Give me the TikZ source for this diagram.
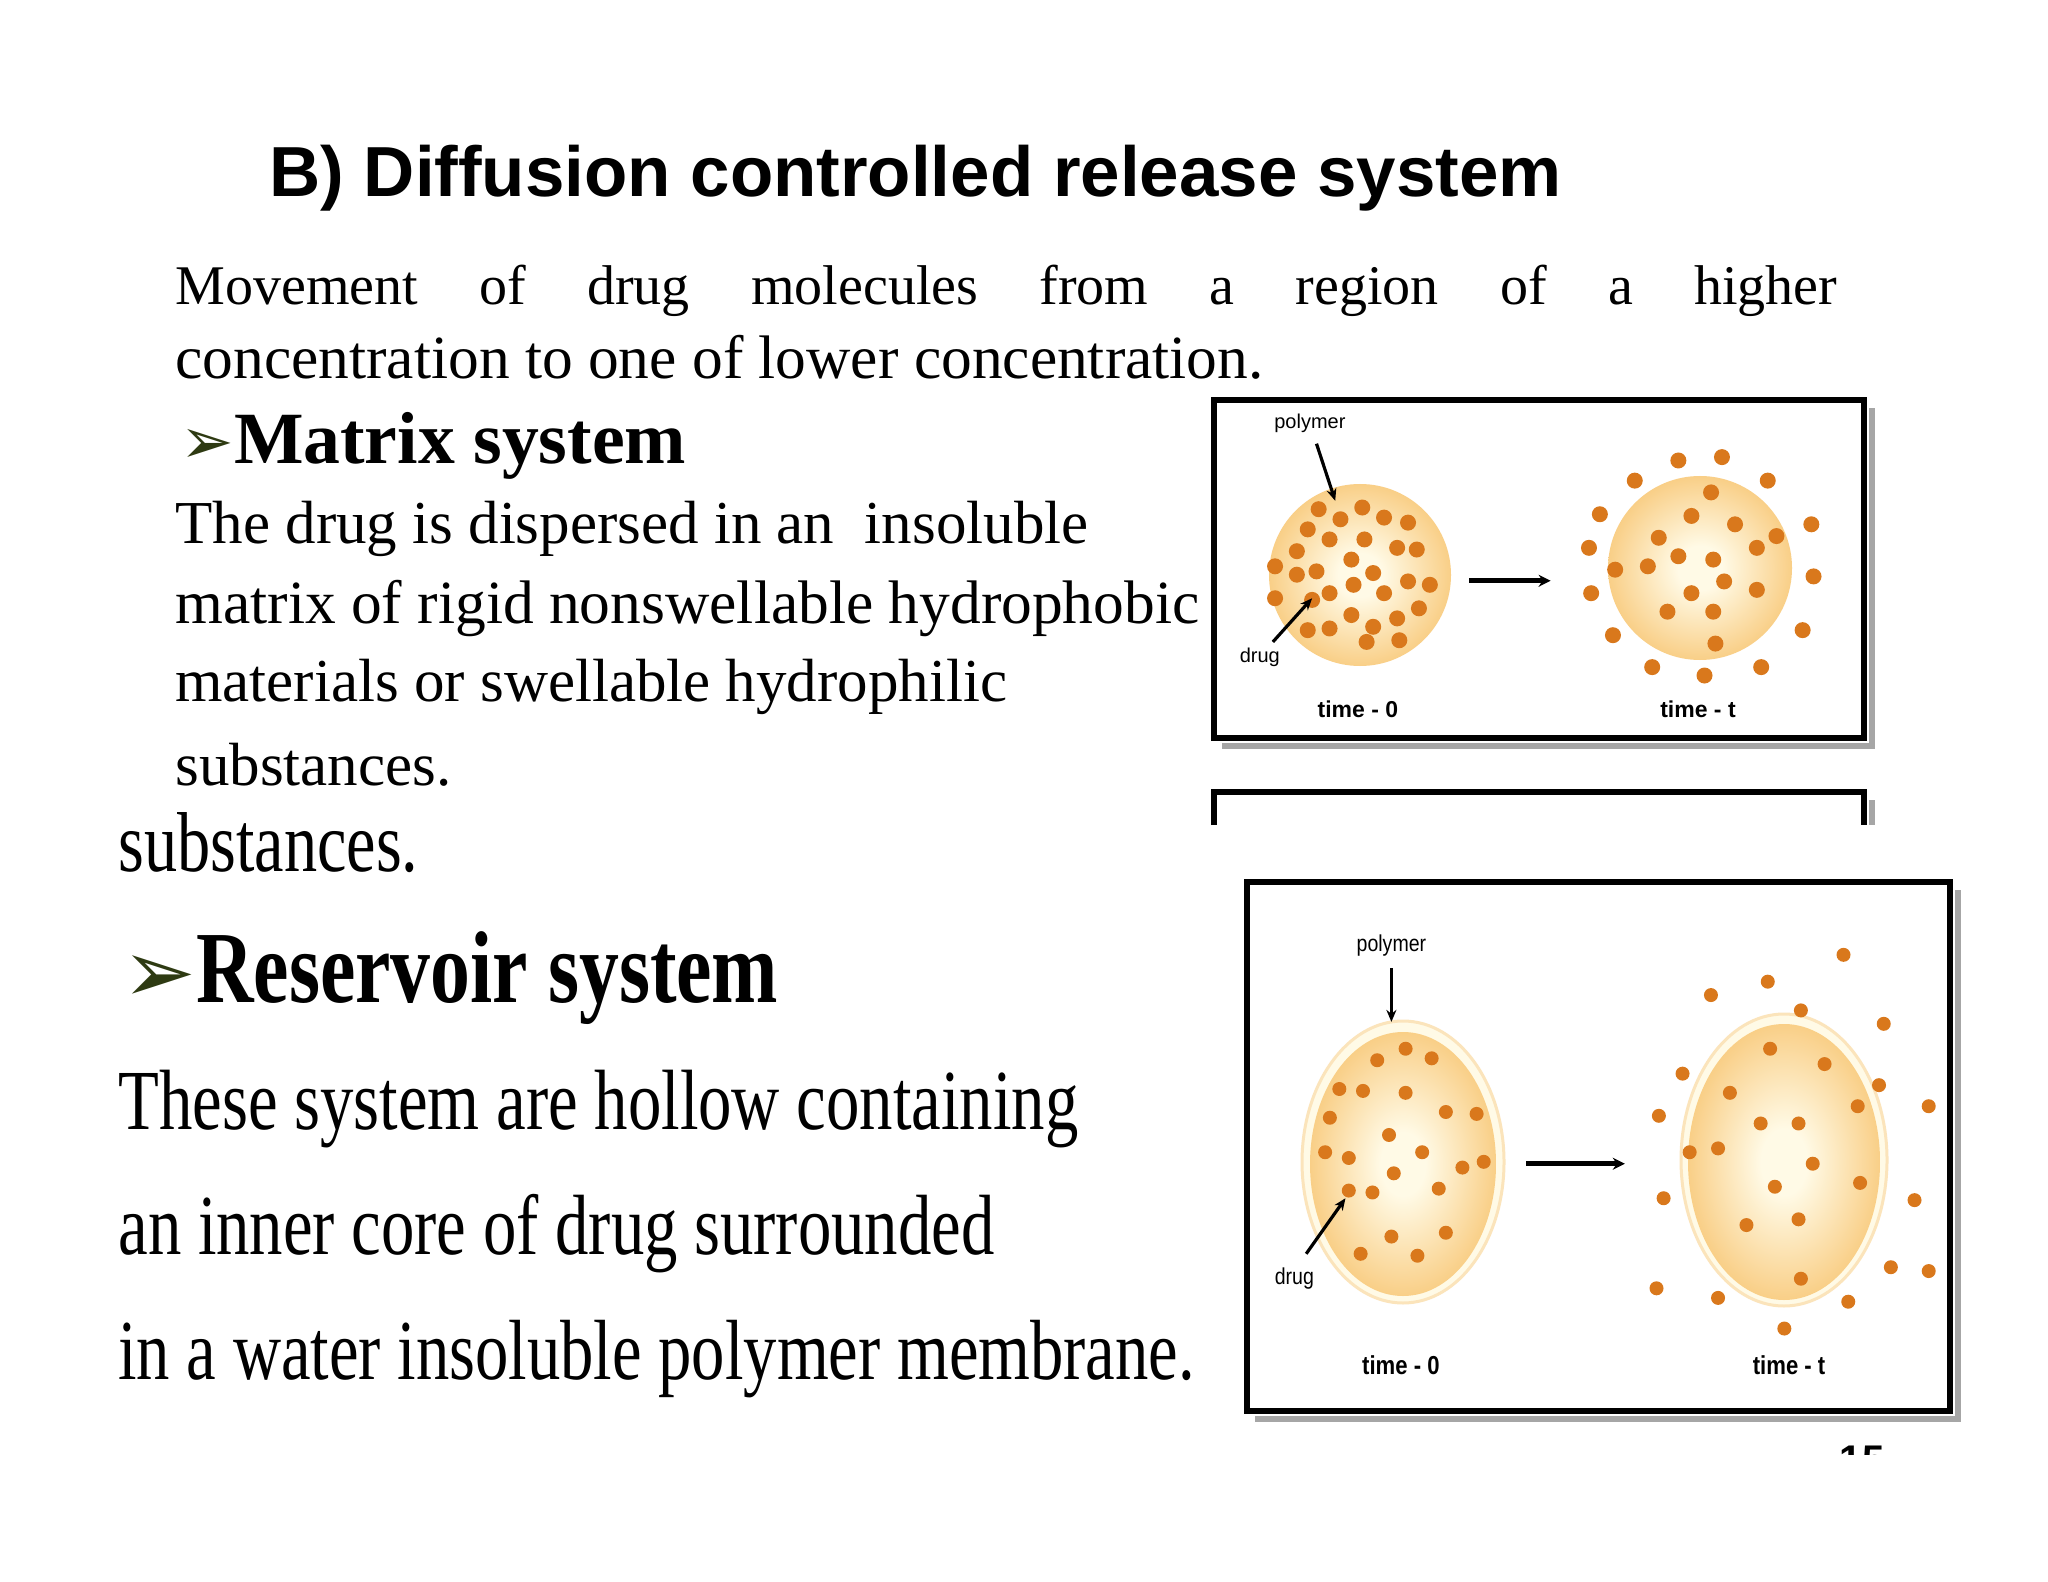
\documentclass[tikz,border=0pt]{standalone}
\usepackage{fontspec}
\setmainfont{Liberation Serif}
\setsansfont{Liberation Sans}
\newfontfamily\narrowf[FakeStretch=0.78]{Liberation Serif}
\newfontfamily\narrows[FakeStretch=0.85]{Liberation Sans}
\newfontfamily\dvs{DejaVu Sans}
\usetikzlibrary{arrows.meta}
\definecolor{cin}{HTML}{FFFAE6}
\definecolor{cmid}{HTML}{F8C878}
\definecolor{cout}{HTML}{EC9632}
\definecolor{dotc}{HTML}{D9781C}
\definecolor{arrg}{HTML}{2E3A12}
\pgfdeclareradialshading{sph}{\pgfpoint{0bp}{0bp}}{color(0bp)=(cin); color(6bp)=(cin); color(28bp)=(cmid); color(50bp)=(cout)}
\tikzset{
  dot/.style={circle,fill=dotc,inner sep=0pt,minimum size=#1},
  dot/.default=8pt,
  frame/.style={draw=black,line width=3.3pt},
  shadowline/.style={draw=black!35,line width=3pt},
  lbl/.style={font=\sffamily\fontsize{10}{12}\selectfont,inner sep=0pt},
  tlbl/.style={font=\sffamily\bfseries\fontsize{11.5}{13}\selectfont,inner sep=0pt},
  ptr/.style={line width=1.6pt,-{Stealth[length=6pt,width=5pt]}},
  bigarr/.style={line width=2.6pt,-{Stealth[length=6pt,width=6pt]}},
  txt/.style={anchor=west,inner sep=0pt},
}
\begin{document}
\begin{tikzpicture}[x=0.5pt,y=-0.5pt]
\fill[white] (0,0) rectangle (2048,1582);
\useasboundingbox (0,0) rectangle (2048,1582);

% title
\node[txt] (title) at (269,178) {\resizebox{646pt}{!}{\sffamily\bfseries B) Diffusion controlled release system}};

% intro paragraph
\node[txt] (p1) at (175,291) {\fontsize{28}{32}\selectfont\hbox to 831pt{Movement\hfill of\hfill drug\hfill molecules\hfill from\hfill a\hfill region\hfill of\hfill a\hfill higher}};
\node[txt] (p2) at (175,357) {\resizebox{544pt}{!}{concentration to one of lower concentration.}};

% matrix heading
\node[txt] (mh) at (180,446) {{\dvs\color{arrg}\fontsize{32}{36}\selectfont ➢}\resizebox{226pt}{!}{\bfseries Matrix system}};
\node[txt] (m1) at (175,529) {\fontsize{30.5}{34}\selectfont The drug is dispersed in an\ \ insoluble};
\node[txt] (m2) at (175,608) {\resizebox{512pt}{!}{matrix of rigid nonswellable hydrophobic}};
\node[txt] (m3) at (175,687) {\fontsize{30.5}{34}\selectfont materials or swellable hydrophilic};
\node[txt] (m4) at (175,765) {\fontsize{30.5}{34}\selectfont substances.};

% reservoir part
\node[txt] (sub) at (118,843) {\resizebox{150pt}{!}{\narrowf substances.}};
\node[txt] (rh) at (122,978) {{\dvs\color{arrg}\fontsize{44}{48}\selectfont ➢}\resizebox{291pt}{!}{\narrowf\bfseries Reservoir system}};
\node[txt] (r1) at (118,1109) {\resizebox{480pt}{!}{\narrowf These system are hollow containing}};
\node[txt] (r2) at (118,1234) {\resizebox{438pt}{!}{\narrowf an inner core of drug surrounded}};
\node[txt] (r3) at (118,1359) {\resizebox{538pt}{!}{\narrowf in a water insoluble polymer membrane.}};

% ===== top box =====
\draw[shadowline] (1222,746) -- (1872,746) -- (1872,408);
\draw[frame] (1214,400) rectangle (1864,738);
\pgfpathcircle{\pgfpointxy{1360}{575}}{45.5pt}\pgfshadepath{sph}{0}\pgfusepath{}
\pgfpathcircle{\pgfpointxy{1700}{568}}{46pt}\pgfshadepath{sph}{0}\pgfusepath{}
\begin{scope}[shift={(1214,400)},xscale=0.436,yscale=0.336,shift={(-20,-25)}]
\foreach \p in {(260,350),(360,345),(410,375),(465,390),(310,380),(235,410),(285,440),(365,440),(440,465),(485,470),(210,475),(335,500),(160,520),(210,545),(255,535),(385,540),(465,565),(515,575),(340,575),(285,600),(410,600),(160,615),(245,620),(490,645),(335,665),(440,675),(385,700),(235,710),(285,705),(370,745),(445,740),
(1160,300),(1115,370),(1215,395),(1310,430),(1040,435),(1265,465),(1085,490),(1165,500),(940,530),(1015,520),(1190,565),(1115,600),(1265,590),(1060,655),(1165,655),(1170,750),
(1085,205),(1185,195),(985,265),(1290,265),(905,365),(1390,395),(880,465),(1395,550),(885,600),(1370,710),(935,725),(1025,820),(1145,845),(1275,820)}
  \node[dot] at \p {};
\node[lbl] (tpol) at (240,95) {polymer};
\coordinate (tpolA) at (255,155); \coordinate (tpolB) at (298,325);
\node[lbl] (tdrug) at (125,790) {drug};
\coordinate (tdrA) at (155,745); \coordinate (tdrB) at (245,615);
\coordinate (tarA) at (605,563); \coordinate (tarB) at (792,563);
\node[tlbl] (tt0) at (350,945) {time - 0};
\node[tlbl] (ttt) at (1130,945) {time - t};
\end{scope}
\draw[ptr] (tpolA) -- (tpolB);
\draw[ptr] (tdrA) -- (tdrB);
\draw[bigarr] (tarA) -- (tarB);

% second box fragment
\draw[frame,line cap=butt] (1214,825) -- (1214,792) -- (1864,792) -- (1864,825);
\draw[shadowline] (1872,800) -- (1872,825);

% ===== bottom box =====
\draw[shadowline] (1255,1419) -- (1958,1419) -- (1958,890);
\draw[frame] (1247,882) rectangle (1950,1411);
\draw[draw=cmid!50,fill=cin,line width=1.5pt] (1403,1162) ellipse [x radius=101, y radius=141];
\draw[draw=cmid!50,fill=cin,line width=1.5pt] (1784,1160) ellipse [x radius=103, y radius=146];
\pgfpathellipse{\pgfpointxy{1403}{1164}}{\pgfpoint{46.5pt}{0pt}}{\pgfpoint{0pt}{66pt}}\pgfshadepath{sph}{0}\pgfusepath{}
\pgfpathellipse{\pgfpointxy{1784}{1162}}{\pgfpoint{48pt}{0pt}}{\pgfpoint{0pt}{69pt}}\pgfshadepath{sph}{0}\pgfusepath{}
\begin{scope}[shift={(1247,882)},xscale=0.4734,yscale=0.3833,shift={(-20,-40)}]
\foreach \p in {(295,505),(355,475),(410,500),(215,580),(265,585),(355,590),(440,640),(505,645),(195,655),(320,700),(185,745),(235,760),(390,745),(475,785),(520,770),(330,800),(235,845),(285,850),(425,840),(325,965),(440,955),(260,1010),(380,1015),
(1125,475),(1240,515),(1040,590),(1310,625),(1105,670),(1185,670),(955,745),(1015,735),(1215,775),(1135,835),(1315,825),(1075,935),(1185,920),(1190,1075),
(1280,230),(1120,300),(1000,335),(1190,375),(1365,410),(940,540),(1355,570),(1460,625),(890,650),(900,865),(1430,870),(885,1100),(1015,1125),(1290,1135),(1155,1205),(1380,1045),(1460,1055)}
  \node[dot=7pt] at \p {};
\node[lbl,font=\narrows\fontsize{11.5}{13}\selectfont] (bpol) at (325,205) {polymer};
\coordinate (bpolA) at (325,265); \coordinate (bpolB) at (325,405);
\node[lbl,font=\narrows\fontsize{11.5}{13}\selectfont] (bdrug) at (120,1075) {drug};
\coordinate (bdrA) at (145,1010); \coordinate (bdrB) at (228,865);
\coordinate (barA) at (610,775); \coordinate (barB) at (818,775);
\node[tlbl,font=\narrows\bfseries\fontsize{13}{15}\selectfont] (bt0) at (345,1300) {time - 0};
\node[tlbl,font=\narrows\bfseries\fontsize{13}{15}\selectfont] (btt) at (1165,1300) {time - t};
\end{scope}
\draw[ptr] (bpolA) -- (bpolB);
\draw[ptr] (bdrA) -- (bdrB);
\draw[bigarr] (barA) -- (barB);

% page number fragment
\begin{scope}
\clip (1800,1425) rectangle (1950,1454);
\node[inner sep=0pt] (pg) at (1862,1460) {\sffamily\bfseries\fontsize{20}{24}\selectfont 15};
\end{scope}
\end{tikzpicture}
\end{document}
